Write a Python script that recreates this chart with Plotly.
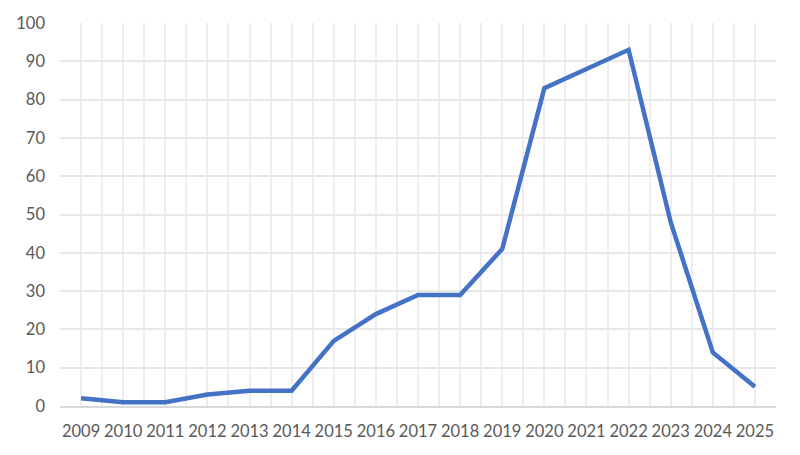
import plotly.graph_objects as go

years = list(range(2009, 2026))
values = [2, 1, 1, 3, 4, 4, 17, 24, 29, 29, 41, 83, 88, 93, 48, 14, 5]
y_ticks = list(range(0, 101, 10))

fig = go.Figure()

fig.add_trace(go.Scatter(
    x=years,
    y=values,
    mode='lines',
    line=dict(color='#4472C4', width=4.5),
    hoverinfo='x+y'
))

# page body has an 8px margin, so the figure is sized to fit inside the window
fig.update_layout(
    width=784,
    height=439,
    showlegend=False,
    plot_bgcolor='white',
    paper_bgcolor='white',
    font=dict(family='Lato, sans-serif', size=16.5, color='#595959'),
    margin=dict(t=15, l=52, r=16, b=41, autoexpand=False),
    xaxis=dict(
        range=[years[0] - 0.5, years[-1] + 0.5],
        tickvals=years,
        ticktext=[str(y) for y in years],
        showgrid=True,
        gridcolor='#EDEDED',
        gridwidth=2,
        minor=dict(dtick=0.5, tick0=0.5, showgrid=True, gridcolor='#EDEDED', gridwidth=2),
        showline=True,
        linecolor='#D9D9D9',
        linewidth=1.5,
        ticks='',
        zeroline=False,
        automargin=False,
        ticklabelstandoff=9,
        fixedrange=True
    ),
    yaxis=dict(
        range=[0, 100],
        tickvals=y_ticks,
        showgrid=True,
        gridcolor='#E8E8E8',
        gridwidth=2,
        zeroline=False,
        ticks='',
        automargin=False,
        ticklabelstandoff=14,
        fixedrange=True
    )
)

fig.write_html("out.html")
